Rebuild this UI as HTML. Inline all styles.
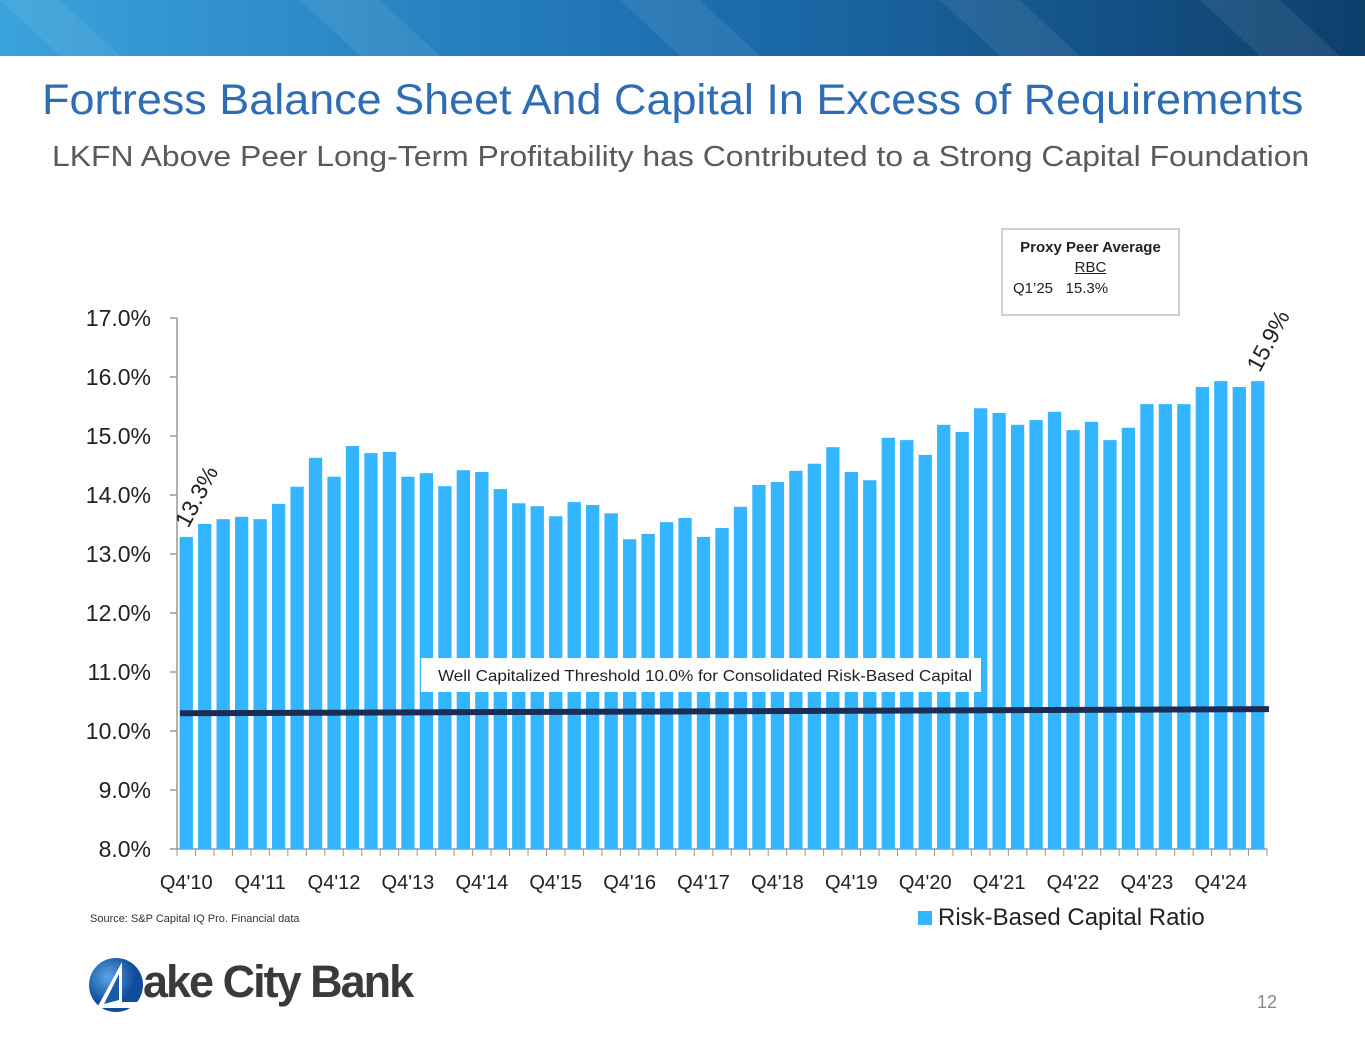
<!DOCTYPE html>
<html><head><meta charset="utf-8"><style>
body{margin:0;width:1365px;height:1055px;background:#fff;overflow:hidden;font-family:"Liberation Sans",sans-serif;position:relative}
.abs{position:absolute}
</style></head><body>
<svg class="abs" style="left:0;top:0" width="1365" height="56">
<defs><linearGradient id="hg" x1="0" x2="1"><stop offset="0" stop-color="#3aa2dc"/><stop offset="0.5" stop-color="#1d6fb0"/><stop offset="1" stop-color="#0e3f6b"/></linearGradient></defs>
<rect width="1365" height="56" fill="url(#hg)"/>
<g fill="#ffffff" opacity="0.08"><polygon points="0,0 60,0 120,56 60,56"/><polygon points="300,0 380,0 440,56 360,56"/><polygon points="620,0 700,0 760,56 680,56"/><polygon points="940,0 1020,0 1080,56 1000,56"/><polygon points="1200,0 1280,0 1340,56 1260,56"/></g>
</svg>
<div class="abs" style="left:42px;top:76px;font-size:43px;color:#2e6db4;white-space:nowrap;transform-origin:0 0;transform:scaleX(1.045)">Fortress Balance Sheet And Capital In Excess of Requirements</div>
<div class="abs" style="left:52px;top:141px;font-size:29px;color:#5a5a5a;white-space:nowrap;transform-origin:0 0;transform:scaleX(1.10)">LKFN Above Peer Long-Term Profitability has Contributed to a Strong Capital Foundation</div>
<div class="abs" style="left:1001px;top:228px;width:175px;height:84px;border:2px solid #d0d0d0;font-size:15px;color:#222">
<div style="text-align:center;font-weight:bold;margin-top:9px">Proxy Peer Average</div>
<div style="text-align:center;text-decoration:underline;margin-top:3px">RBC</div>
<div style="margin-left:10px;margin-top:4px">Q1’25&nbsp;&nbsp;&nbsp;15.3%</div>
</div>
<svg id="chart" class="abs" style="left:0;top:0" width="1365" height="1055"></svg>
<div class="abs" style="left:90px;top:913px;font-size:11px;color:#333">Source: S&amp;P Capital IQ Pro. Financial data</div>
<div class="abs" style="left:918px;top:904px;font-size:24px;color:#222;white-space:nowrap"><span style="display:inline-block;width:14px;height:14px;background:#33b5ff;margin-right:6px"></span>Risk-Based Capital Ratio</div>
<svg class="abs" style="left:88px;top:956px" width="58" height="58">
<defs><radialGradient id="lg" cx="0.35" cy="0.35"><stop offset="0" stop-color="#5aa6e6"/><stop offset="1" stop-color="#0f4c9a"/></radialGradient></defs>
<circle cx="28" cy="29" r="27" fill="url(#lg)"/>
<path d="M10 50 L34 6 L34 46 L56 46 L56 52 L10 52 Z" fill="#fff"/><path d="M16 48 L31 18 L31 44 Z" fill="#1a5ba8"/>
</svg>
<div class="abs" style="left:143px;top:956px;font-size:45px;font-weight:bold;color:#3a3a3a;letter-spacing:-2px;white-space:nowrap">ake City Bank</div>
<div class="abs" style="left:1257px;top:992px;font-size:18px;color:#888">12</div>
<script>
const categories=["Q4'10","Q1'11","Q2'11","Q3'11","Q4'11","Q1'12","Q2'12","Q3'12","Q4'12","Q1'13","Q2'13","Q3'13","Q4'13","Q1'14","Q2'14","Q3'14","Q4'14","Q1'15","Q2'15","Q3'15","Q4'15","Q1'16","Q2'16","Q3'16","Q4'16","Q1'17","Q2'17","Q3'17","Q4'17","Q1'18","Q2'18","Q3'18","Q4'18","Q1'19","Q2'19","Q3'19","Q4'19","Q1'20","Q2'20","Q3'20","Q4'20","Q1'21","Q2'21","Q3'21","Q4'21","Q1'22","Q2'22","Q3'22","Q4'22","Q1'23","Q2'23","Q3'23","Q4'23","Q1'24","Q2'24","Q3'24","Q4'24","Q1'25","Q2'25"];
const ratioValues=[13.29,13.51,13.59,13.63,13.59,13.85,14.14,14.63,14.31,14.83,14.71,14.73,14.31,14.37,14.15,14.42,14.39,14.10,13.86,13.81,13.64,13.88,13.83,13.69,13.25,13.34,13.54,13.61,13.29,13.44,13.80,14.17,14.22,14.41,14.53,14.81,14.39,14.25,14.97,14.93,14.68,15.19,15.07,15.47,15.39,15.19,15.27,15.41,15.10,15.24,14.93,15.14,15.54,15.54,15.54,15.83,15.93,15.83,15.93];
const yTicks=[8,9,10,11,12,13,14,15,16,17];
const thresholdLine=[10.3,10.37];
const labeledPoints=[{i:0,text:"13.3%"},{i:58,text:"15.9%"}];
const svg=document.getElementById('chart');const NS='http://www.w3.org/2000/svg';
const x0=177,x1=1267,yB=849,yT=318;
const y=v=>yB-(v-8)/(17-8)*(yB-yT);
const step=(x1-x0)/categories.length;
const xc=i=>x0+step*(i+0.5);
function mk(t,a){const e=document.createElementNS(NS,t);for(const k in a)e.setAttribute(k,a[k]);svg.appendChild(e);return e;}
let ax=mk('line',{x1:x0,y1:yT,x2:x0,y2:yB,stroke:'#999','stroke-width':1.5});


yTicks.forEach(v=>{
 const tk=mk('line',{x1:x0-7,y1:y(v),x2:x0,y2:y(v),stroke:'#999','stroke-width':1.5});
 
 
 const t=mk('text',{x:151,y:y(v)+8,'text-anchor':'end','font-size':23,fill:'#222','font-family':'Liberation Sans, sans-serif'});
 t.textContent=v.toFixed(1)+'%';
 
 
});
let bx=mk('line',{x1:x0,y1:yB,x2:x1,y2:yB,stroke:'#999','stroke-width':1.5});


for(let i=0;i<=categories.length;i++){
 const tk=mk('line',{x1:x0+step*i,y1:yB,x2:x0+step*i,y2:yB+7,stroke:'#999','stroke-width':1});
 
 
}
const bw=step*0.72;
ratioValues.forEach((v,i)=>{
 const r=mk('rect',{x:xc(i)-bw/2,y:y(v),width:bw,height:yB-y(v),fill:'#33b5ff'});
 
 
});
categories.forEach((c,i)=>{
 if(i%4!==0)return;
 const t=mk('text',{x:xc(i),y:889,'text-anchor':'middle','font-size':20,fill:'#222','font-family':'Liberation Sans, sans-serif'});
 t.textContent=c;
 
 
});
const th=mk('line',{x1:x0+3,y1:y(thresholdLine[0]),x2:x1+2,y2:y(thresholdLine[1]),stroke:'#1b2d55','stroke-width':6});


const lb=mk('rect',{x:421,y:658,width:560,height:34,fill:'#fff'});


const lt=mk('text',{x:438,y:681,'font-size':16,fill:'#222','font-family':'Liberation Sans, sans-serif',textLength:534,lengthAdjust:'spacingAndGlyphs'});
lt.textContent='Well Capitalized Threshold 10.0% for Consolidated Risk-Based Capital';


labeledPoints.forEach(p=>{
 const px=xc(p.i)+2,py=y(ratioValues[p.i])-8;
 const t=mk('text',{x:px,y:py,'font-size':23,fill:'#222','font-family':'Liberation Sans, sans-serif',transform:`rotate(-62 ${px} ${py})`});
 t.textContent=p.text;
 
 
});
</script>
</body></html>
